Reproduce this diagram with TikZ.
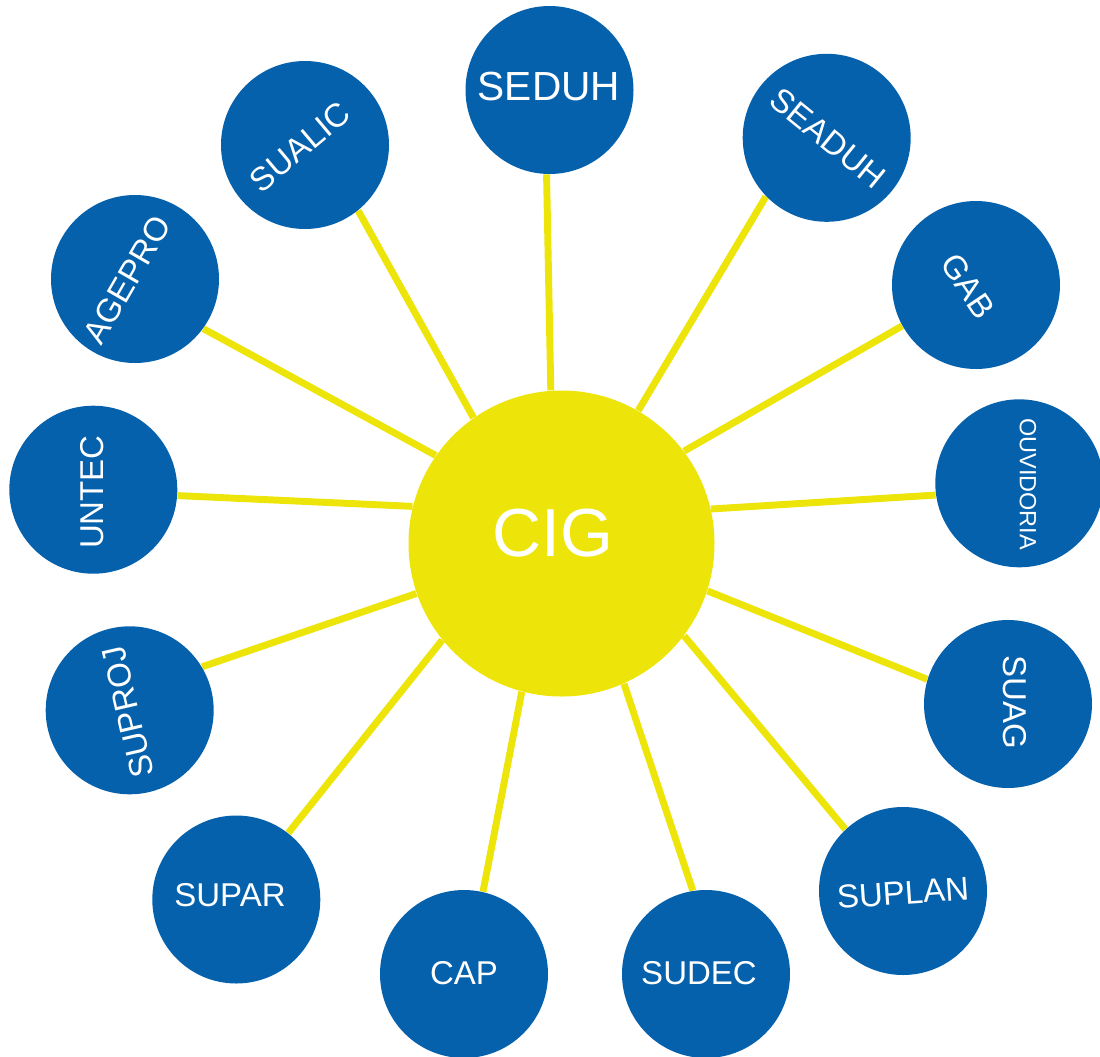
\documentclass[tikz,border=0pt]{standalone}
\usepackage{fontspec}
\setmainfont{Liberation Sans}
\usepackage{xcolor}
\usetikzlibrary{backgrounds}
\definecolor{orgblue}{RGB}{5,97,172}
\definecolor{orgyellow}{RGB}{237,229,10}
\tikzset{every picture/.style={line width=0.75pt}}
\tikzset{
  unit/.style={circle, fill=orgblue, inner sep=0pt, minimum size=126pt},
  core/.style={circle, fill=orgyellow, inner sep=0pt, minimum size=229.5pt},
  unitname/.style={text=white, inner sep=0.75pt, font=\fontsize{24.75}{30}\selectfont},
  link/.style={draw=orgyellow, line width=5.2pt},
}

\begin{document}
\begin{tikzpicture}[x=0.75pt,y=0.75pt,yscale=-1,xscale=1]
\useasboundingbox (0,0) rectangle (1100,1057);
%Shape: Circle
\draw (561.5,543.5) node [core] (cig) {};
%Shape: Circle
\draw (549.5,90) node [unit] (seduh) {};
\draw (826.7,137.8) node [unit] (seaduh) {};
\draw (976,285) node [unit] (gab) {};
\draw (1019.3,483.3) node [unit] (ouvidoria) {};
\draw (1008,704) node [unit] (suag) {};
\draw (903,891) node [unit] (suplan) {};
\draw (706,974) node [unit] (sudec) {};
\draw (464,974) node [unit] (cap) {};
\draw (236.3,899.5) node [unit] (supar) {};
\draw (129.7,710.3) node [unit] (suproj) {};
\draw (93.3,489.7) node [unit] (untec) {};
\draw (135,279) node [unit] (agepro) {};
\draw (305,145) node [unit] (sualic) {};
%Straight Lines
\begin{pgfonlayer}{background}
\foreach \a/\u/\b in {94/seduh/268,60/seaduh/224,37/gab/209,13/ouvidoria/188,
                      -18/suag/163,-37/suplan/133,-66/sudec/99,255/cap/77,
                      219/supar/52,199/suproj/31,166/untec/356,145/agepro/324,125/sualic/309}
  \draw [link] (cig.\a) -- (\u.\b);
\end{pgfonlayer}
% Text Node
\draw (553,533) node [unitname, font=\fontsize{51}{60}\selectfont] (cig-t) {CIG};
% Text Node
\draw (549,86) node [unitname, font=\fontsize{30.5}{36}\selectfont] (seduh-t) {SEDUH};
% Text Node
\draw (828,138) node [unitname, rotate=-39] (seaduh-t) {SEADUH};
% Text Node
\draw (968,286) node [unitname, rotate=-56] (gab-t) {GAB};
% Text Node
\draw (1028,484) node [unitname, rotate=-90, font=\fontsize{17.6}{21}\selectfont] (ouvidoria-t) {OUVIDORIA};
% Text Node
\draw (1015,702) node [unitname, rotate=-90] (suag-t) {SUAG};
% Text Node
\draw (903,893) node [unitname, rotate=4] (suplan-t) {SUPLAN};
% Text Node
\draw (699,973) node [unitname] (sudec-t) {SUDEC};
% Text Node
\draw (464,973) node [unitname] (cap-t) {CAP};
% Text Node
\draw (230,895) node [unitname] (supar-t) {SUPAR};
% Text Node
\draw (128,712) node [unitname, rotate=103] (suproj-t) {SUPROJ};
% Text Node
\draw (92,492) node [unitname, rotate=90] (untec-t) {UNTEC};
% Text Node
\draw (127,280) node [unitname, rotate=60] (agepro-t) {AGEPRO};
% Text Node
\draw (300,147) node [unitname, rotate=40] (sualic-t) {SUALIC};
\end{tikzpicture}
\end{document}
